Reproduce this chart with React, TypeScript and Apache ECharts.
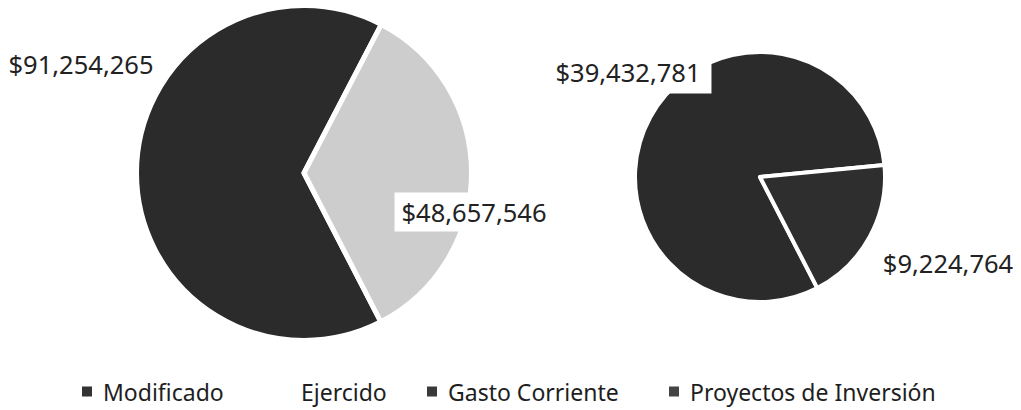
import React, { useEffect, useRef } from 'react';
import * as echarts from 'echarts';

// ---- data ----
const budgetCategories = ['Modificado', 'Ejercido'];
const budgetValues = [91254265, 48657546];
const spendCategories = ['Gasto Corriente', 'Proyectos de Inversión'];
const spendValues = [39432781, 9224764];
const legendNames = ['Modificado', 'Ejercido', 'Gasto Corriente', 'Proyectos de Inversión'];

// ---- styles / layout ----
const sliceColors: Record<string, string> = {
  'Modificado': '#2b2b2b',
  'Ejercido': '#cdcdcd',
  'Gasto Corriente': '#2b2b2b',
  'Proyectos de Inversión': '#2e2e2e',
};
const legendIconColors: Record<string, string> = {
  'Modificado': '#333333',
  'Ejercido': '#ffffff',
  'Gasto Corriente': '#3a3a3a',
  'Proyectos de Inversión': '#444444',
};
const legendLefts = [82, 280, 427, 669];
const labelPositions = [
  [[81, 64], [474, 212]],
  [[628, 72], [948, 263]],
];
const labelBackgrounds = [
  [null, { pad: [7, 7] }],
  [{ pad: [9, 11] }, null],
];
const FONT = '"Noto Sans", "DejaVu Sans", sans-serif';

const fmt = (v: number) => '$' + String(v).replace(/\B(?=(\d{3})+(?!\d))/g, ',');

export default function App() {
  const ref = useRef<HTMLDivElement>(null);
  useEffect(() => {
    if (!ref.current) return;
    const chart = echarts.init(ref.current, undefined, { renderer: 'svg' });

    const makeData = (cats: string[], vals: number[], si: number) =>
      cats.map((c, i) => {
        const bg = labelBackgrounds[si][i] as any;
        return {
          name: c,
          value: vals[i],
          itemStyle: { color: sliceColors[c] },
          label: bg
            ? { backgroundColor: '#ffffff', padding: bg.pad }
            : {},
        };
      });

    const seriesBase = (si: number) => ({
      type: 'pie',
      startAngle: 297.3,
      clockwise: true,
      avoidLabelOverlap: false,
      label: {
        show: true,
        formatter: (p: any) => fmt(p.value),
        fontFamily: FONT,
        fontSize: 25.5,
        color: '#222222',
        lineHeight: 25,
      },
      labelLine: { show: false },
      labelLayout: (params: any) => {
        const pos = labelPositions[si][params.dataIndex];
        return { x: pos[0], y: pos[1], align: 'center', verticalAlign: 'middle', hideOverlap: false };
      },
      emphasis: { disabled: true },
    });

    chart.setOption({
      animation: false,
      backgroundColor: '#ffffff',
      legend: legendNames.map((n, i) => ({
        data: [n],
        left: legendLefts[i],
        top: 380,
        padding: 0,
        orient: 'horizontal',
        icon: 'rect',
        itemWidth: 10,
        itemHeight: 10,
        itemStyle: { color: legendIconColors[n], borderWidth: 0 },
        selectedMode: false,
        textStyle: {
          fontFamily: FONT,
          fontSize: 23,
          color: '#1e1e1e',
          padding: [0, 0, 0, 6],
        },
      })),
      series: [
        {
          ...seriesBase(0),
          name: 'Presupuesto',
          center: [304, 173],
          radius: 167.5,
          itemStyle: { borderColor: '#ffffff', borderWidth: 5 },
          data: makeData(budgetCategories, budgetValues, 0),
        },
        {
          ...seriesBase(1),
          name: 'Ejercido',
          center: [760, 177],
          radius: 125,
          itemStyle: { borderColor: '#ffffff', borderWidth: 4 },
          data: makeData(spendCategories, spendValues, 1),
        },
      ],
    });
    return () => chart.dispose();
  }, []);
  return (
    <div
      ref={ref}
      style={{ position: 'fixed', left: 0, top: 0, width: 1021, height: 410, background: '#fff' }}
    />
  );
}
